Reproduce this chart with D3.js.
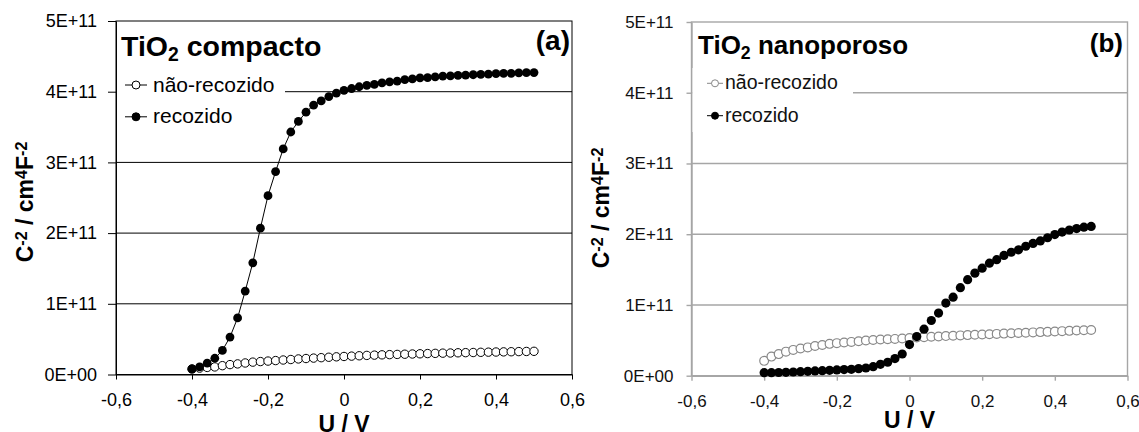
<!DOCTYPE html>
<html>
<head>
<meta charset="utf-8">
<script src="https://cdn.jsdelivr.net/npm/d3@7"></script>
<style>
  body { margin: 0; background: #fff; }
  svg { display: block; font-family: Arial, "Liberation Sans", sans-serif; }
</style>
</head>
<body>
<svg id="canvas" width="1139" height="432"></svg>
<script>
// Potential U / V (same sweep for both samples)
const voltage = [
  -0.40, -0.38, -0.36, -0.34, -0.32, -0.30, -0.28, -0.26, -0.24, -0.22,
  -0.20, -0.18, -0.16, -0.14, -0.12, -0.10, -0.08, -0.06, -0.04, -0.02,
  0.00, 0.02, 0.04, 0.06, 0.08, 0.10, 0.12, 0.14, 0.16, 0.18,
  0.20, 0.22, 0.24, 0.26, 0.28, 0.30, 0.32, 0.34, 0.36, 0.38,
  0.40, 0.42, 0.44, 0.46, 0.48, 0.50,
];

// C^-2 values in units of 1E+11 cm^4 F^-2
// (a) compact TiO2
const compactoRecozido = [
  0.075, 0.107, 0.16, 0.23, 0.34, 0.53, 0.80, 1.18, 1.58, 2.07,
  2.53, 2.87, 3.19, 3.43, 3.58, 3.71, 3.81, 3.87, 3.93, 3.98,
  4.02, 4.045, 4.07, 4.09, 4.105, 4.125, 4.14, 4.15, 4.17, 4.18,
  4.195, 4.2, 4.21, 4.22, 4.225, 4.23, 4.235, 4.24, 4.245, 4.25,
  4.255, 4.26, 4.26, 4.265, 4.27, 4.27,
];
const compactoNaoRecozido = [
  0.08, 0.09, 0.1, 0.107, 0.125, 0.14, 0.15, 0.163, 0.175, 0.183,
  0.19, 0.197, 0.205, 0.212, 0.22, 0.226, 0.232, 0.238, 0.244, 0.25,
  0.255, 0.26, 0.265, 0.27, 0.274, 0.278, 0.281, 0.284, 0.287, 0.29,
  0.293, 0.296, 0.299, 0.302, 0.304, 0.307, 0.309, 0.311, 0.314, 0.316,
  0.318, 0.32, 0.322, 0.324, 0.326, 0.328,
];
// (b) nanoporous TiO2
const nanoporosoRecozido = [
  0.043, 0.043, 0.045, 0.048, 0.052, 0.057, 0.062, 0.067, 0.071, 0.076,
  0.081, 0.086, 0.09, 0.1, 0.109, 0.128, 0.161, 0.19, 0.242, 0.307,
  0.44, 0.553, 0.658, 0.78, 0.885, 1.027, 1.11, 1.244, 1.357, 1.45,
  1.52, 1.59, 1.64, 1.7, 1.745, 1.78, 1.83, 1.87, 1.905, 1.95,
  1.995, 2.03, 2.06, 2.08, 2.1, 2.11,
];
const nanoporosoNaoRecozido = [
  0.21, 0.27, 0.305, 0.34, 0.365, 0.385, 0.4, 0.42, 0.435, 0.45,
  0.46, 0.47, 0.478, 0.488, 0.497, 0.505, 0.511, 0.516, 0.52, 0.525,
  0.533, 0.54, 0.545, 0.55, 0.555, 0.56, 0.565, 0.57, 0.574, 0.578,
  0.583, 0.587, 0.591, 0.595, 0.6, 0.604, 0.608, 0.612, 0.616, 0.62,
  0.625, 0.63, 0.634, 0.638, 0.642, 0.645,
];

const xTicks = [-0.6, -0.4, -0.2, 0, 0.2, 0.4, 0.6];
const xTickLabels = ["-0,6", "-0,4", "-0,2", "0", "0,2", "0,4", "0,6"];
const yTicks = [0, 1, 2, 3, 4, 5];
const yTickLabels = ["0E+00", "1E+11", "2E+11", "3E+11", "4E+11", "5E+11"];
const legendLabels = ["não-recozido", "recozido"];

const svg = d3.select("#canvas");
svg.append("rect").attr("width", 1139).attr("height", 432).attr("fill", "#fff");

const drawPanel = (p) => {
  const x = d3.scaleLinear().domain([-0.6, 0.6]).range([p.left, p.right]);
  const y = d3.scaleLinear().domain([0, 5]).range([p.bottom, p.top]);
  const g = svg.append("g");

  // Gridlines
  g.selectAll(".grid")
    .data(yTicks.filter((d) => d > 0 && d < 5))
    .enter()
    .append("line")
    .attr("x1", p.left)
    .attr("x2", p.right)
    .attr("y1", (d) => y(d))
    .attr("y2", (d) => y(d))
    .attr("stroke", p.gridColor)
    .attr("stroke-width", p.gridWidth);

  // Plot frame
  g.append("rect")
    .attr("x", p.left)
    .attr("y", p.top)
    .attr("width", p.right - p.left)
    .attr("height", p.bottom - p.top)
    .attr("fill", "none")
    .attr("stroke", p.gridColor)
    .attr("stroke-width", p.gridWidth);

  // Axes
  const xAxis = g.append("g")
    .attr("transform", `translate(0,${p.bottom})`)
    .call(
      d3.axisBottom(x)
        .tickValues(xTicks)
        .tickFormat((d, i) => xTickLabels[i])
        .tickSizeInner(p.xTickSize)
        .tickSizeOuter(0)
        .tickPadding(p.xTickPad)
    );
  const yAxis = g.append("g")
    .attr("transform", `translate(${p.left},0)`)
    .call(
      d3.axisLeft(y)
        .tickValues(yTicks)
        .tickFormat((d, i) => yTickLabels[i])
        .tickSizeInner(p.yTickSize)
        .tickSizeOuter(0)
        .tickPadding(p.yTickPad)
    );
  [xAxis, yAxis].forEach((a) => {
    a.select(".domain").attr("stroke", p.gridColor).attr("stroke-width", p.gridWidth);
    a.selectAll(".tick line").attr("stroke", p.gridColor).attr("stroke-width", p.gridWidth);
    a.selectAll(".tick text")
      .attr("fill", p.textColor)
      .style("font-size", p.tickFont + "px")
      .style("font-family", "Arial, 'Liberation Sans', sans-serif");
  });

  // Legend background hides the 4E+11 gridline
  g.append("rect")
    .attr("x", p.left + 1)
    .attr("y", p.legend.top)
    .attr("width", p.legend.right - p.left - 1)
    .attr("height", p.legend.bottom - p.legend.top)
    .attr("fill", "#fff");

  // Title with subscript
  const title = g.append("text")
    .attr("x", p.title.x)
    .attr("y", p.title.y)
    .attr("fill", "#000")
    .style("font-size", p.title.size + "px")
    .style("font-weight", "bold");
  title.append("tspan").text("TiO");
  title.append("tspan").attr("dy", "0.28em").style("font-size", "0.68em").text("2");
  title.append("tspan").attr("dy", "-0.19em").text(" " + p.title.text);

  g.append("text")
    .attr("x", p.tag.x)
    .attr("y", p.tag.y)
    .attr("text-anchor", "end")
    .style("font-size", p.tag.size + "px")
    .style("font-weight", "bold")
    .text(p.tag.text);

  // Axis titles
  g.append("text")
    .attr("x", (p.left + p.right) / 2)
    .attr("y", p.xTitleY)
    .attr("text-anchor", "middle")
    .style("font-size", p.axisFont + "px")
    .style("font-weight", "bold")
    .text("U / V");

  const yt = g.append("text")
    .attr("transform", `translate(${p.yTitle.x},${p.yTitle.y}) rotate(-90)`)
    .attr("text-anchor", "middle")
    .style("font-size", p.axisFont + "px")
    .style("font-weight", "bold");
  const sup = (t) => yt.append("tspan").attr("dy", "-0.36em").style("font-size", "0.7em").text(t);
  const norm = (t, dy) => yt.append("tspan").attr("dy", dy).text(t);
  norm("C", 0);
  sup("-2");
  norm(" / cm", "0.252em");
  sup("4");
  norm("F", "0.252em");
  sup("-2");

  // Legend entries
  const legendRows = [
    { label: legendLabels[0], filled: false, y: p.legend.row1 },
    { label: legendLabels[1], filled: true, y: p.legend.row2 },
  ];
  legendRows.forEach((r) => {
    g.append("line")
      .attr("x1", p.legend.mx - p.legend.half)
      .attr("x2", p.legend.mx + p.legend.half)
      .attr("y1", r.y - p.legend.markerOffset)
      .attr("y2", r.y - p.legend.markerOffset)
      .attr("stroke", r.filled ? "#000" : p.openColor)
      .attr("stroke-width", 1);
    g.append("circle")
      .attr("cx", p.legend.mx)
      .attr("cy", r.y - p.legend.markerOffset)
      .attr("r", p.legend.r)
      .attr("fill", r.filled ? "#000" : "#fff")
      .attr("stroke", r.filled ? "#000" : p.openColor)
      .attr("stroke-width", 1);
    g.append("text")
      .attr("x", p.legend.tx)
      .attr("y", r.y)
      .attr("fill", p.textColor)
      .style("font-size", p.legend.size + "px")
      .text(r.label);
  });

  // Series
  const open = voltage.map((v, i) => [v, p.open[i]]);
  const filled = voltage.map((v, i) => [v, p.filled[i]]);

  if (p.showLine) {
    const line = d3.line().x((d) => x(d[0])).y((d) => y(d[1]));
    g.append("path").datum(filled).attr("d", line)
      .attr("fill", "none").attr("stroke", "#000").attr("stroke-width", 1);
  }

  g.selectAll(".open")
    .data(open)
    .enter()
    .append("circle")
    .attr("cx", (d) => x(d[0]))
    .attr("cy", (d) => y(d[1]))
    .attr("r", p.openR)
    .attr("fill", "#fff")
    .attr("stroke", p.openColor)
    .attr("stroke-width", p.openStroke);

  g.selectAll(".filled")
    .data(filled)
    .enter()
    .append("circle")
    .attr("cx", (d) => x(d[0]))
    .attr("cy", (d) => y(d[1]))
    .attr("r", p.filledR)
    .attr("fill", "#000");
};

drawPanel({
  left: 116, right: 572, top: 21, bottom: 374.5,
  gridColor: "#000", gridWidth: 1, textColor: "#000", openColor: "#000",
  xTickSize: 5, xTickPad: 14, yTickSize: 8, yTickPad: 11, tickFont: 18,
  axisFont: 23, xTitleY: 432, yTitle: { x: 33, y: 202 },
  title: { x: 121, y: 56, size: 28.5, text: "compacto" },
  tag: { x: 570, y: 50, size: 28, text: "(a)" },
  legend: { top: 68, bottom: 132, right: 285, mx: 136, half: 11, r: 4,
            markerOffset: 6.5, tx: 153, row1: 91.5, row2: 123.3, size: 21 },
  showLine: true, openR: 4.2, openStroke: 1, filledR: 4.4,
  open: compactoNaoRecozido, filled: compactoRecozido,
});

drawPanel({
  left: 691.5, right: 1127.5, top: 22, bottom: 375.7,
  gridColor: "#a6a6a6", gridWidth: 1.4, textColor: "#111", openColor: "#888",
  xTickSize: 5, xTickPad: 14.5, yTickSize: 5, yTickPad: 13, tickFont: 17,
  axisFont: 23, xTitleY: 428, yTitle: { x: 609, y: 208 },
  title: { x: 698, y: 54, size: 26, text: "nanoporoso" },
  tag: { x: 1123, y: 52, size: 26, text: "(b)" },
  legend: { top: 68, bottom: 132, right: 853, mx: 715, half: 8, r: 3.5,
            markerOffset: 6, tx: 725, row1: 89.3, row2: 121.7, size: 19.5 },
  showLine: false, openR: 4.4, openStroke: 1.2, filledR: 4.6,
  open: nanoporosoNaoRecozido, filled: nanoporosoRecozido,
});
</script>
</body>
</html>
